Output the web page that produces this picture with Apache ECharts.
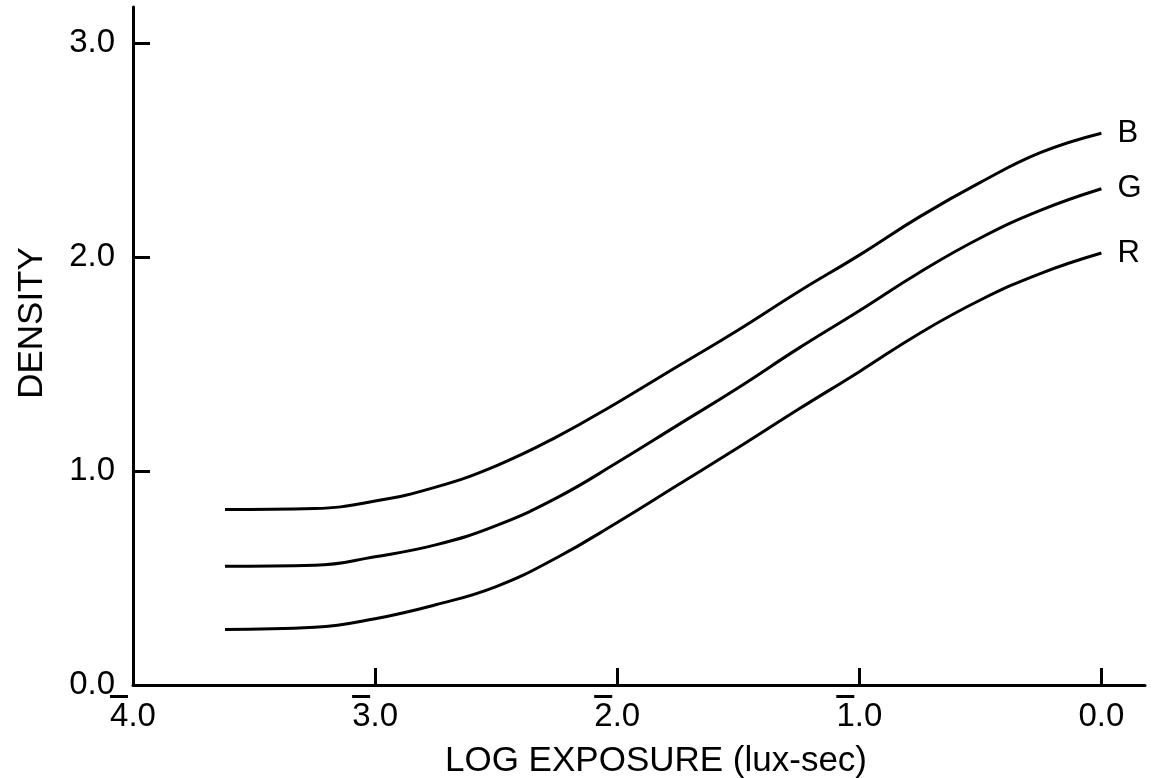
<!DOCTYPE html>
<html>
<head>
<meta charset="utf-8">
<script src="https://cdn.jsdelivr.net/npm/echarts@6/dist/echarts.min.js"></script>
<style>
  html, body { margin: 0; padding: 0; background: #fff; }
  #chart { width: 1155px; height: 778px; }
</style>
</head>
<body>
<div id="chart"></div>
<script>
// log exposure sample points (shared by all three curves)
const exposure = [-3.62, -3.25, -3.0, -2.75, -2.5, -2.25, -2.0, -1.75, -1.5, -1.25, -1.0, -0.75, -0.5, -0.25, 0];
const densityB = [0.82, 0.825, 0.86, 0.925, 1.025, 1.16, 1.32, 1.49, 1.66, 1.84, 2.01, 2.19, 2.35, 2.49, 2.58];
const densityG = [0.555, 0.56, 0.60, 0.655, 0.745, 0.875, 1.04, 1.215, 1.39, 1.575, 1.75, 1.93, 2.09, 2.22, 2.32];
const densityR = [0.26, 0.27, 0.31, 0.375, 0.46, 0.595, 0.76, 0.935, 1.11, 1.29, 1.465, 1.645, 1.80, 1.925, 2.02];
const seriesNames = ['B', 'G', 'R'];

// x tick labels: negative characteristics are written with a bar over the digit
const xTicks = [-4, -3, -2, -1, 0];
const xTickDigits = ['4', '3', '2', '1', '0'];
const xTickBarred = [true, true, true, true, false];
const yTicks = [0, 1, 2, 3];
const yTickLabels = ['0.0', '1.0', '2.0', '3.0'];

const FONT = 'Liberation Sans, Arial, Helvetica, sans-serif';
const LABEL_SIZE = 33;

function pairs(ys) {
  return exposure.map((x, i) => [x, ys[i]]);
}

const chart = echarts.init(document.getElementById('chart'));
chart.setOption({
  animation: false,
  backgroundColor: '#fff',
  grid: {
    left: 133,
    right: 10,
    top: 7,
    bottom: 93,
    containLabel: false,
    outerBoundsMode: 'none'
  },
  xAxis: {
    type: 'value',
    min: -4,
    max: 0.18,
    name: 'LOG EXPOSURE (lux-sec)',
    nameLocation: 'middle',
    nameGap: 59,
    nameTextStyle: { color: '#000', fontSize: 35, fontFamily: FONT, padding: [0, 0, 0, 34] },
    axisLine: { onZero: false, lineStyle: { color: '#000', width: 3 } },
    axisTick: { show: true, inside: true, length: 17, customValues: xTicks, lineStyle: { color: '#000', width: 3 } },
    axisLabel: {
      customValues: xTicks,
      margin: 10,
      color: '#000',
      fontFamily: FONT,
      formatter: v => {
        const i = xTicks.indexOf(v);
        if (i < 0) return '';
        const top = xTickBarred[i] ? '{bar| }{sp| }' : '{sp2| }';
        return top + '\n{n|' + xTickDigits[i] + '.0}';
      },
      rich: {
        bar: { width: 18, height: 3, lineHeight: 3, backgroundColor: '#000' },
        sp: { width: 28, height: 3, lineHeight: 3 },
        sp2: { width: 46, height: 3, lineHeight: 3 },
        n: { fontSize: LABEL_SIZE, fontFamily: FONT, color: '#000', lineHeight: 38 }
      }
    },
    splitLine: { show: false }
  },
  yAxis: {
    type: 'value',
    min: 0,
    max: 3.17,
    name: 'DENSITY',
    nameLocation: 'middle',
    nameRotate: 90,
    nameGap: 83,
    nameTextStyle: { color: '#000', fontSize: 35, fontFamily: FONT, padding: [0, 0, 0, 46] },
    axisLine: { onZero: false, lineStyle: { color: '#000', width: 3 } },
    axisTick: { show: true, inside: true, length: 17, customValues: yTicks, lineStyle: { color: '#000', width: 3 } },
    axisLabel: {
      customValues: yTicks,
      margin: 18,
      color: '#000',
      fontSize: LABEL_SIZE,
      fontFamily: FONT,
      formatter: v => yTickLabels[yTicks.indexOf(v)] || ''
    },
    splitLine: { show: false }
  },
  series: [densityB, densityG, densityR].map((d, i) => ({
    name: seriesNames[i],
    type: 'line',
    data: pairs(d),
    smooth: 0.45,
    showSymbol: false,
    lineStyle: { color: '#000', width: 3 },
    endLabel: {
      show: true,
      formatter: '{a}',
      distance: 16,
      color: '#000',
      fontSize: 31,
      fontFamily: FONT
    }
  }))
});
</script>
</body>
</html>
